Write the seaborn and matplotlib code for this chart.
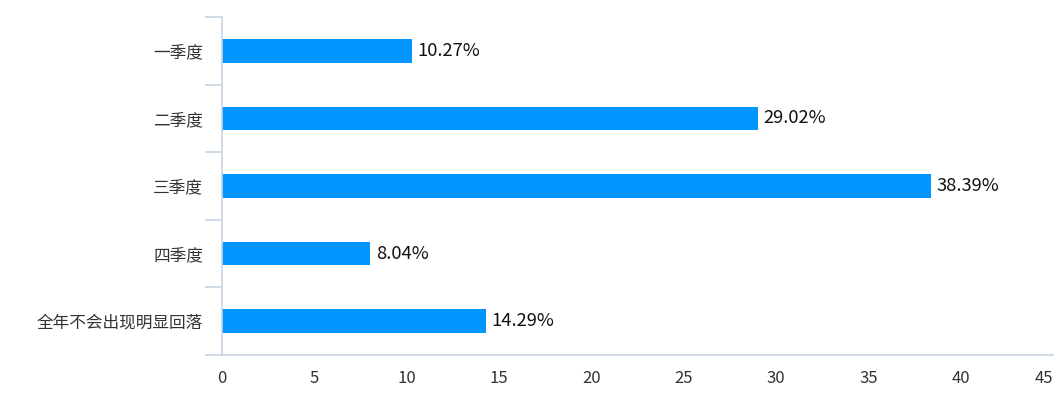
import matplotlib
matplotlib.use('Agg')
import matplotlib.pyplot as plt
import seaborn as sns
import numpy as np
import pandas as pd

categories = ['一季度', '二季度', '三季度', '四季度', '全年不会出现明显回落']
values = [10.27, 29.02, 38.39, 8.04, 14.29]
x_ticks = [0, 5, 10, 15, 20, 25, 30, 35, 40, 45]

sns.set_style('white')
plt.rcParams['font.family'] = ['Noto Sans CJK SC', 'DejaVu Sans']

axis_color = '#C8D4E4'
text_color = '#333333'

df = pd.DataFrame({'cat': categories, 'val': values})

fig = plt.figure(figsize=(10.6, 3.93), dpi=100)
ax = fig.add_axes([0.2094, 0.0967, 0.7840, 0.8600])
sns.barplot(data=df, x='val', y='cat', color='#0095FF', width=0.35,
            saturation=1, ax=ax, orient='h', linewidth=0)

for i, v in enumerate(values):
    ax.text(v + 0.3, i, f'{v:.2f}%', va='center', ha='left',
            fontsize=13.2, color='#111111')

ax.set_xlim(0, 45)
ax.set_ylim(len(categories) - 0.5, -0.5)
ax.set_xticks(x_ticks)
ax.set_xlabel('')
ax.set_ylabel('')

# boundary tick marks on the category axis
ax.set_yticks(np.arange(-0.5, len(categories), 1.0), minor=True)
ax.tick_params(axis='y', which='major', left=False, pad=10, labelsize=12,
               labelcolor=text_color)
ax.tick_params(axis='y', which='minor', left=True, length=12, width=1.2,
               color=axis_color)
ax.tick_params(axis='x', which='major', bottom=False, pad=7, labelsize=12,
               labelcolor=text_color)

# keep the last x label inside the figure
ax.get_xticklabels()[-1].set_horizontalalignment('right')

for side in ['top', 'right']:
    ax.spines[side].set_visible(False)
for side in ['left', 'bottom']:
    ax.spines[side].set_color(axis_color)
    ax.spines[side].set_linewidth(1.2)

fig.savefig('out.png', dpi=100)
